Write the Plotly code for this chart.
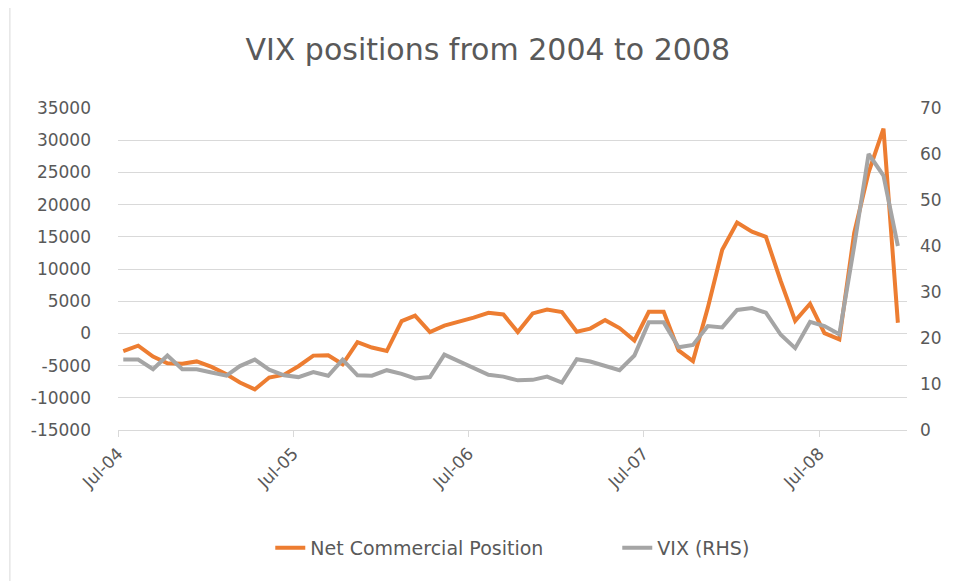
import pandas as pd
import plotly.graph_objects as go

# Monthly observations, Jul 2004 .. Dec 2008
dates = pd.date_range("2004-07-01", periods=54, freq="MS") + pd.Timedelta(days=11)

net_commercial = [
    -2740, -1900, -3600, -4650, -4700, -4350,
    -5200, -6350, -7630, -8700, -6850, -6400,
    -5100, -3450, -3400, -4800, -1350, -2200,
    -2740, 1900, 2750, 200, 1200, 1800,
    2450, 3200, 2950, 200, 3100, 3700,
    3300, 250, 750, 2060, 830, -1100,
    3350, 3350, -2650, -4300, 4000, 13000,
    17200, 15800, 15000, 8100, 1950, 4600,
    50, -930, 15600, 25000, 31800, 1650,
]

vix = [
    15.3, 15.3, 13.2, 16.2, 13.2, 13.2,
    12.5, 11.8, 13.9, 15.3, 13.1, 11.9,
    11.5, 12.6, 11.8, 15.3, 11.9, 11.8,
    13.0, 12.2, 11.2, 11.5, 16.4, 14.9,
    13.4, 12.0, 11.6, 10.8, 10.9, 11.6,
    10.3, 15.4, 14.9, 14.0, 13.0, 16.2,
    23.4, 23.4, 18.0, 18.5, 22.6, 22.3,
    26.1, 26.5, 25.5, 20.7, 17.8, 23.5,
    22.6, 20.8, 40.0, 60.0, 55.3, 40.0,
]

left_ticks = [-15000, -10000, -5000, 0, 5000, 10000, 15000, 20000, 25000, 30000, 35000]
left_labels = ["-15000", "-10000", "-5000", "0", "5000", "10000", "15000",
               "20000", "25000", "30000", "35000"]
right_ticks = [0, 10, 20, 30, 40, 50, 60, 70]
x_ticks = ["2004-07-01", "2005-07-01", "2006-07-01", "2007-07-01", "2008-07-01"]
x_labels = ["Jul-04", "Jul-05", "Jul-06", "Jul-07", "Jul-08"]

series_names = ["Net Commercial Position", "VIX (RHS)"]
title_text = "VIX positions from 2004 to 2008"

FONT = "DejaVu Sans"
TXT = "#595959"
GRID = "#d9d9d9"

fig = go.Figure()
fig.add_trace(go.Scatter(
    x=dates, y=net_commercial, name=series_names[0], mode="lines",
    line=dict(color="#ED7D31", width=4), yaxis="y",
))
fig.add_trace(go.Scatter(
    x=dates, y=vix, name=series_names[1], mode="lines",
    line=dict(color="#A5A5A5", width=4), yaxis="y2",
))

fig.update_layout(
    width=950, height=573,
    margin=dict(l=110, r=51, t=100, b=151, autoexpand=False),
    paper_bgcolor="white", plot_bgcolor="white",
    font=dict(family=FONT, color=TXT, size=17),
    title=dict(text=title_text, x=0.505, xanchor="center", y=0.927, yanchor="middle",
               font=dict(family=FONT, size=30, color=TXT)),
    xaxis=dict(
        type="date", range=["2004-07-01", "2008-12-31"],
        tickvals=x_ticks, ticktext=x_labels, tickangle=-45,
        showgrid=False, showline=True, linecolor=GRID, linewidth=1,
        ticks="outside", ticklen=6, tickcolor=GRID, automargin=False,
        tickfont=dict(size=17, color=TXT), zeroline=False,
    ),
    yaxis=dict(
        range=[-15000, 35000], tickvals=left_ticks, ticktext=left_labels,
        showgrid=True, gridcolor=GRID, gridwidth=1, zeroline=False,
        showline=False, ticks="", ticklabelstandoff=26, automargin=False,
        tickfont=dict(size=17, color=TXT),
    ),
    yaxis2=dict(
        range=[0, 70], tickvals=right_ticks, overlaying="y", side="right",
        showgrid=False, zeroline=False, showline=False, ticks="",
        ticklabelstandoff=12, automargin=False, tickfont=dict(size=17, color=TXT),
    ),
    legend=dict(orientation="h", x=0.193, xanchor="left", y=-0.366, yanchor="middle",
                font=dict(size=19, color=TXT), bgcolor="rgba(0,0,0,0)",
                entrywidth=302),
    showlegend=True,
)

fig.add_shape(type="line", xref="paper", yref="paper",
              x0=-0.137, x1=-0.137, y0=-0.47, y1=1.34,
              line=dict(color=GRID, width=1))

fig.write_html("out.html")
